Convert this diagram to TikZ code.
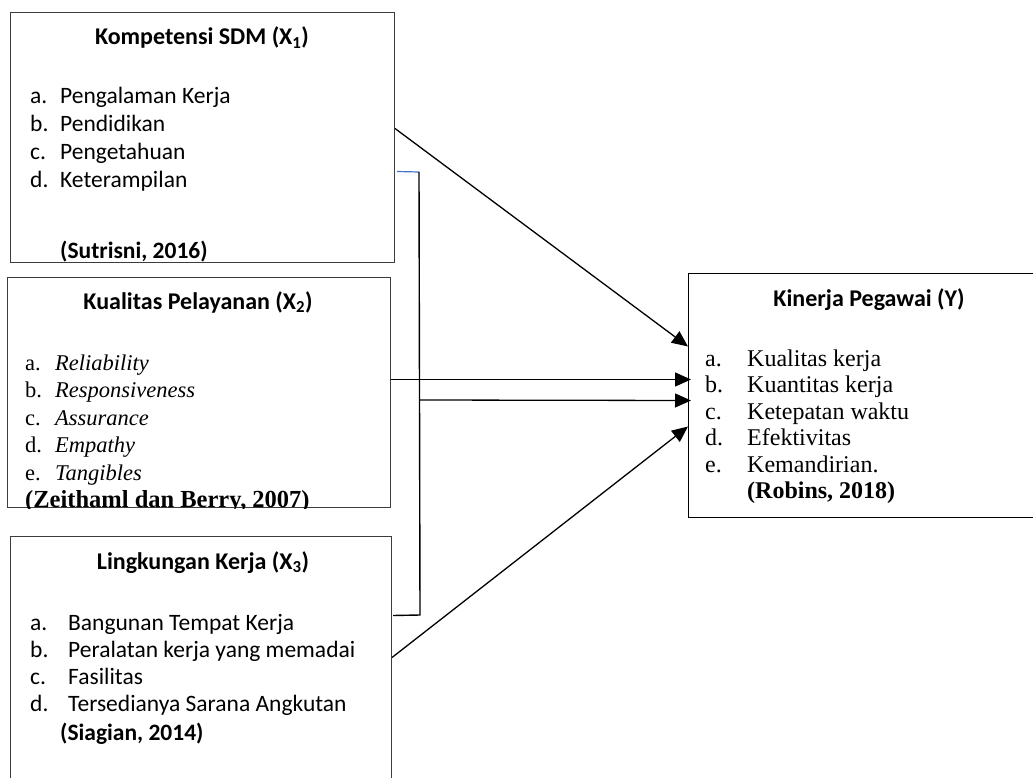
\documentclass[tikz,border=0pt]{standalone}
\usepackage{fontspec}
\setmainfont{Carlito}
\newfontfamily\tnr{Liberation Serif}
\usetikzlibrary{arrows.meta}

\definecolor{wordblu}{RGB}{68,114,196}
\definecolor{boxgray}{RGB}{60,60,60}

\tikzset{
  box/.style={draw=boxgray, line width=1pt, rectangle, inner sep=0pt, anchor=north west},
  conn/.style={line width=1.3pt, -{Triangle[length=16pt,width=14pt]}},
  title/.style={font=\fontsize{24}{28}\selectfont\bfseries, anchor=base, inner sep=0pt},
  lst/.style={inner sep=0pt, anchor=base west},
  sans/.style={font=\fontsize{23.5}{27.5}\selectfont},
  serif/.style={font=\tnr\fontsize{22.5}{27.6}\selectfont},
}

\begin{document}
\begin{tikzpicture}[x=1pt,y=-1pt]
  \useasboundingbox (0,0) rectangle (1033,778);
  \clip (0,0) rectangle (1033,778);

  % the four boxes
  \node[box, minimum width=384pt, minimum height=250pt] (kom) at (10,12) {};
  \node[box, minimum width=383pt, minimum height=230pt] (pel) at (7,277) {};
  \node[box, minimum width=381pt, minimum height=264pt] (ling) at (10,536) {};
  \node[box, draw=black, minimum width=362pt, minimum height=244pt] (kin) at (688,273) {};

  % Kompetensi SDM
  \node[title] (komTitle) at (202,45) {Kompetensi SDM (X\textsubscript{1})};
  \node[lst, font=\fontsize{23.5}{28}\selectfont] (komList) at (30,104) {%
    \begin{tabular}[t]{@{}p{30pt}@{}l@{}}
      a. & Pengalaman Kerja\\
      b. & Pendidikan\\
      c. & Pengetahuan\\
      d. & Keterampilan
    \end{tabular}};
  \begin{scope}
    \clip (kom.north west) rectangle (kom.south east);
    \node[lst, sans] (komRef) at (60,258) {\textbf{(Sutrisni, 2016)}};
  \end{scope}

  % Kualitas Pelayanan
  \node[title] (pelTitle) at (198,309) {Kualitas Pelayanan (X\textsubscript{2})};
  \node[lst, serif] (pelList) at (25,370) {%
    \begin{tabular}[t]{@{}p{30pt}@{}l@{}}
      a. & \textit{Reliability}\\
      b. & \textit{Responsiveness}\\
      c. & \textit{Assurance}\\
      d. & \textit{Empathy}\\
      e. & \textit{Tangibles}
    \end{tabular}};
  \begin{scope}
    \clip (pel.north west) rectangle (pel.south east);
    \node[lst, font=\tnr\fontsize{24.5}{27}\selectfont\bfseries] (pelRef) at (25,507) {(Zeithaml dan Berry, 2007)};
  \end{scope}

  % Lingkungan Kerja
  \node[title] (lingTitle) at (203,569) {Lingkungan Kerja (X\textsubscript{3})};
  \node[lst, font=\fontsize{23.5}{27.3}\selectfont] (lingList) at (30,630) {%
    \begin{tabular}[t]{@{}p{38pt}@{}l@{}}
      a. & Bangunan Tempat Kerja\\
      b. & Peralatan kerja yang memadai\\
      c. & Fasilitas\\
      d. & Tersedianya Sarana Angkutan
    \end{tabular}};
  \node[lst, sans] (lingRef) at (60,740) {\textbf{(Siagian, 2014)}};

  % Kinerja Pegawai
  \node[title] (kinTitle) at (869,306) {Kinerja Pegawai (Y)};
  \node[lst, font=\tnr\fontsize{24}{26.5}\selectfont] (kinList) at (705,366) {%
    \begin{tabular}[t]{@{}p{42pt}@{}l@{}}
      a. & Kualitas kerja\\
      b. & Kuantitas kerja\\
      c. & Ketepatan waktu\\
      d. & Efektivitas\\
      e. & Kemandirian.\\
         & \textbf{(Robins, 2018)}
    \end{tabular}};

  % connectors
  \coordinate (top) at (419,172);
  \coordinate (bot) at (420,615);
  \coordinate (jn) at (419,400);
  \draw[wordblu, line width=1.2pt] ([yshift=-34pt,xshift=2pt]kom.east) -- (top);
  \draw[line width=1.4pt] (top) -- (bot) -- ([yshift=53pt,xshift=1pt]ling.east);
  \draw[conn] ([yshift=9pt]kom.east) -- ([yshift=49pt]kin.west);
  \draw[conn] ([yshift=13pt]pel.east) -- ([yshift=16pt,xshift=3pt]kin.west);
  \draw[conn] (jn) -- ([yshift=-5pt,xshift=3pt]kin.west);
  \draw[conn] ([yshift=11pt]ling.east) -- ([yshift=-31pt]kin.west);
\end{tikzpicture}
\end{document}
